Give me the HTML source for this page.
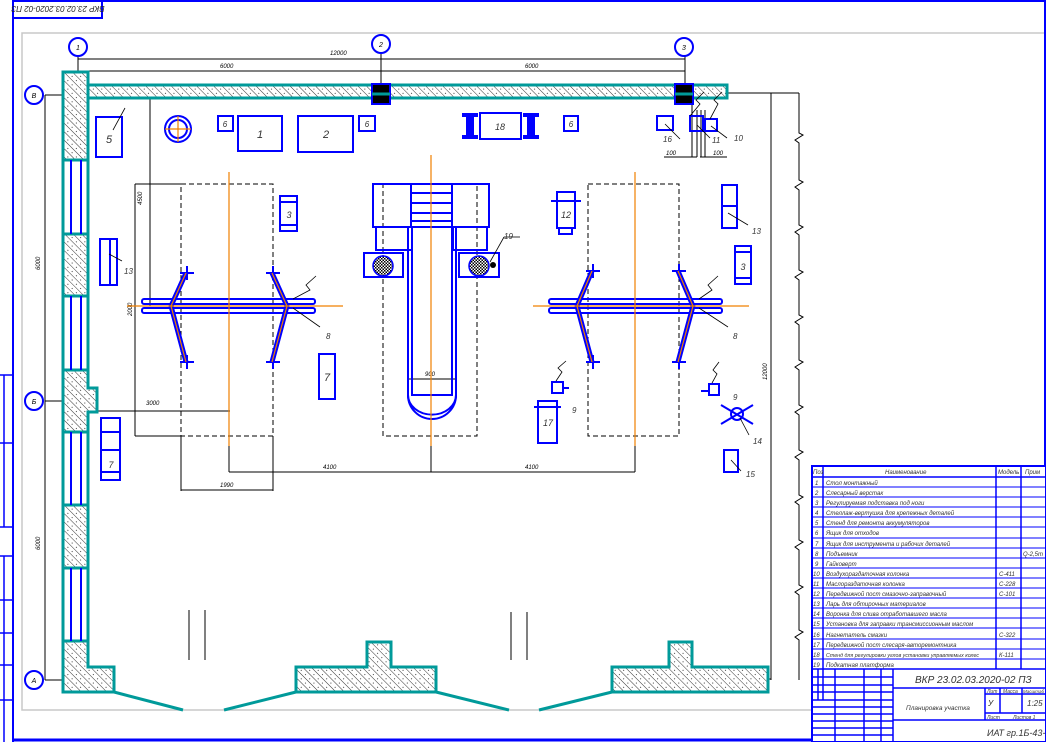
<!DOCTYPE html>
<html><head><meta charset="utf-8"><style>
html,body{margin:0;padding:0;background:#fff;}
svg{display:block;font-family:"Liberation Sans",sans-serif;font-style:italic;}
</style></head><body>
<svg width="1046" height="742" viewBox="0 0 1046 742" xmlns="http://www.w3.org/2000/svg">
<defs>
<pattern id="h" width="6" height="6" patternUnits="userSpaceOnUse" patternTransform="rotate(-45)">
<rect width="6" height="6" fill="#fff"/><line x1="0" y1="0" x2="0" y2="6" stroke="#000" stroke-width="0.8"/><circle cx="3" cy="3" r="0.5" fill="#000"/></pattern>
<pattern id="ch" width="3" height="3" patternUnits="userSpaceOnUse"><rect width="3" height="3" fill="#fff"/><rect width="1.5" height="1.5" fill="#000"/><rect x="1.5" y="1.5" width="1.5" height="1.5" fill="#000"/></pattern>
</defs>
<!-- frames -->
<rect x="22" y="33" width="1030" height="677" fill="none" stroke="#c8c8c8" stroke-width="1.5"/>
<line x1="13" y1="0" x2="13" y2="742" stroke="#00f" stroke-width="2"/>
<line x1="13" y1="1" x2="1046" y2="1" stroke="#00f" stroke-width="2"/>
<line x1="13" y1="740" x2="1046" y2="740" stroke="#00f" stroke-width="3"/>
<line x1="1045" y1="0" x2="1045" y2="742" stroke="#00f" stroke-width="2"/>
<rect x="13" y="1" width="89" height="17" fill="none" stroke="#00f" stroke-width="2"/>
<text x="58" y="9" font-size="8" fill="#222" text-anchor="middle" transform="rotate(180 58 9)" dy="3">ВКР 23.02.03.2020-02 ПЗ</text>
<g stroke="#00f" stroke-width="1.5" fill="none">
<line x1="4" y1="375" x2="4" y2="527"/><line x1="4" y1="556" x2="4" y2="742"/>
<line x1="0" y1="375" x2="13" y2="375"/><line x1="0" y1="443" x2="13" y2="443"/><line x1="0" y1="527" x2="13" y2="527"/><line x1="0" y1="556" x2="13" y2="556"/><line x1="0" y1="600" x2="13" y2="600"/><line x1="0" y1="633" x2="13" y2="633"/><line x1="0" y1="665" x2="13" y2="665"/><line x1="0" y1="700" x2="13" y2="700"/>
</g>
<!-- dimension lines -->
<g stroke="#000" stroke-width="1" fill="none">
<line x1="78" y1="59" x2="685" y2="59"/><line x1="78" y1="71" x2="685" y2="71"/>
<line x1="78" y1="56" x2="78" y2="94"/><line x1="381" y1="53" x2="381" y2="86"/><line x1="685" y1="56" x2="685" y2="86"/>
<line x1="45" y1="95" x2="45" y2="680"/>
<line x1="45" y1="95" x2="78" y2="95"/><line x1="78" y1="86" x2="78" y2="95"/>
<line x1="45" y1="401" x2="78" y2="401"/><line x1="78" y1="401" x2="78" y2="411"/>
<line x1="45" y1="680" x2="78" y2="680"/>
<line x1="727" y1="93" x2="799" y2="93"/><line x1="771" y1="93" x2="771" y2="680"/><line x1="660" y1="679" x2="771" y2="679"/>
<polyline points="799,93 799,133 803,135 795,140 799,143 799,180 803,182 795,187 799,190 799,225 803,227 795,232 799,235 799,270 803,272 795,277 799,280 799,315 803,317 795,322 799,325 799,360 803,362 795,367 799,370 799,405 803,407 795,412 799,415 799,450 803,452 795,457 799,460 799,495 803,497 795,502 799,505 799,540 803,542 795,547 799,550 799,585 803,587 795,592 799,595 799,630 803,632 795,637 799,640 799,680 "/>
<line x1="150" y1="97" x2="150" y2="306"/><line x1="150" y1="97" x2="170" y2="97"/>
<line x1="135" y1="184" x2="135" y2="436"/><line x1="135" y1="184" x2="182" y2="184"/><line x1="135" y1="436" x2="182" y2="436"/>
<line x1="77" y1="411" x2="230" y2="411"/><line x1="229" y1="446" x2="229" y2="472"/><line x1="635" y1="446" x2="635" y2="472"/><line x1="431" y1="446" x2="431" y2="472"/>
<line x1="229" y1="472" x2="635" y2="472"/>
<line x1="181" y1="436" x2="181" y2="491"/><line x1="273" y1="436" x2="273" y2="491"/><line x1="181" y1="490" x2="273" y2="490"/>
<line x1="408" y1="379" x2="456" y2="379"/>
<line x1="664" y1="157" x2="697" y2="157"/><line x1="692" y1="100" x2="692" y2="157"/><line x1="697" y1="110" x2="697" y2="157"/>
<line x1="700" y1="157" x2="727" y2="157"/><line x1="701" y1="110" x2="701" y2="157"/><line x1="705" y1="110" x2="705" y2="157"/>
<line x1="189" y1="610" x2="189" y2="660"/><line x1="205" y1="610" x2="205" y2="660"/>
<line x1="511" y1="612" x2="511" y2="660"/><line x1="527" y1="612" x2="527" y2="660"/>
</g>
<g font-size="6" fill="#000">
<text x="330" y="55">12000</text><text x="220" y="68">6000</text><text x="525" y="68">6000</text>
<text x="40" y="270" transform="rotate(-90 40 270)">6000</text><text x="40" y="550" transform="rotate(-90 40 550)">6000</text>
<text x="767" y="380" transform="rotate(-90 767 380)">12000</text>
<text x="146" y="405">3000</text><text x="323" y="469">4100</text><text x="525" y="469">4100</text><text x="220" y="487">1990</text><text x="425" y="376">900</text>
<text x="142" y="205" transform="rotate(-90 142 205)">4500</text><text x="132" y="316" transform="rotate(-90 132 316)">2000</text>
<text x="666" y="155">100</text><text x="713" y="155">100</text>
</g>
<!-- axis bubbles -->
<g stroke="#00f" stroke-width="2" fill="#fff">
<circle cx="78" cy="47" r="9"/><circle cx="381" cy="44" r="9"/><circle cx="684" cy="47" r="9"/>
<circle cx="34" cy="95" r="9"/><circle cx="34" cy="401" r="9"/><circle cx="34" cy="680" r="9"/>
</g>
<g font-size="7" fill="#000" text-anchor="middle"><text x="78" y="50">1</text><text x="381" y="47">2</text><text x="684" y="50">3</text><text x="34" y="98">В</text><text x="34" y="404">Б</text><text x="34" y="683">А</text></g>
<!-- walls -->
<g stroke="#009a9a" stroke-width="3" fill="url(#h)">
<rect x="88" y="85" width="639" height="13"/>
<rect x="63" y="72" width="25" height="88"/>
<rect x="63" y="234" width="25" height="62"/>
<path d="M63 370 H88 V388 H97 V412 H88 V432 H63 Z"/>
<rect x="63" y="505" width="25" height="63"/>
<path d="M63 641 H88 V667 H114 V692 H63 Z"/>
<path d="M296 667 H367 V642 H391 V667 H436 V692 H296 Z"/>
<path d="M612 667 H669 V642 H692 V667 H768 V692 H612 Z"/>
</g>
<g stroke="#009a9a" stroke-width="3" fill="none">
<rect x="63" y="160" width="25" height="74"/><rect x="63" y="296" width="25" height="74"/><rect x="63" y="432" width="25" height="73"/><rect x="63" y="568" width="25" height="73"/>
<line x1="114" y1="692" x2="183" y2="710"/><line x1="224" y1="710" x2="296" y2="692"/>
<line x1="436" y1="692" x2="509" y2="710"/><line x1="539" y1="710" x2="612" y2="692"/>
</g>
<g stroke="#00f" stroke-width="2"><line x1="71" y1="160" x2="71" y2="234"/><line x1="81" y1="160" x2="81" y2="234"/><line x1="71" y1="296" x2="71" y2="370"/><line x1="81" y1="296" x2="81" y2="370"/><line x1="71" y1="432" x2="71" y2="505"/><line x1="81" y1="432" x2="81" y2="505"/><line x1="71" y1="568" x2="71" y2="641"/><line x1="81" y1="568" x2="81" y2="641"/></g>
<g stroke="#00f" stroke-width="2" fill="#000"><rect x="372" y="84" width="18" height="20"/><rect x="675" y="84" width="18" height="20"/></g>
<line x1="372" y1="94" x2="390" y2="94" stroke="#009a9a" stroke-width="3"/><line x1="675" y1="94" x2="693" y2="94" stroke="#009a9a" stroke-width="3"/>
<!-- dashed zones -->
<g stroke="#000" stroke-width="1" stroke-dasharray="5,3" fill="none">
<rect x="181" y="184" width="92" height="252"/><rect x="588" y="184" width="91" height="252"/><rect x="383" y="184" width="94" height="252"/>
</g>
<!-- equipment -->
<g stroke="#00f" stroke-width="2" fill="none">
<rect x="96" y="117" width="26" height="40"/>
<circle cx="178" cy="129" r="13"/><circle cx="178" cy="129" r="9"/>
<rect x="218" y="116" width="15" height="15"/><rect x="238" y="116" width="44" height="35"/><rect x="298" y="116" width="55" height="36"/><rect x="359" y="116" width="16" height="15"/>
<rect x="480" y="113" width="41" height="26"/><rect x="564" y="116" width="14" height="15"/>
<rect x="657" y="116" width="16" height="14"/><rect x="690" y="116" width="13" height="15"/><rect x="705" y="119" width="12" height="12"/>
<rect x="722" y="185" width="15" height="43"/><line x1="722" y1="206" x2="737" y2="206"/>
<rect x="735" y="246" width="16" height="38"/><line x1="735" y1="252" x2="751" y2="252"/><line x1="735" y1="278" x2="751" y2="278"/>
<rect x="557" y="192" width="18" height="36"/><rect x="559" y="228" width="13" height="6"/><line x1="551" y1="201" x2="581" y2="201"/>
<rect x="538" y="401" width="19" height="42"/><line x1="534" y1="407" x2="561" y2="407"/>
<rect x="552" y="382" width="11" height="11"/><line x1="563" y1="388" x2="569" y2="388"/>
<rect x="709" y="384" width="10" height="11"/><line x1="701" y1="391" x2="709" y2="391"/>
<circle cx="737" cy="414" r="6"/><line x1="721" y1="405" x2="753" y2="424"/><line x1="721" y1="424" x2="753" y2="405"/>
<rect x="724" y="450" width="14" height="22"/>
<rect x="280" y="196" width="17" height="35"/><line x1="280" y1="202" x2="297" y2="202"/><line x1="280" y1="225" x2="297" y2="225"/>
<rect x="319" y="354" width="16" height="45"/>
<rect x="100" y="239" width="17" height="46"/><line x1="110" y1="239" x2="110" y2="285"/>
<rect x="101" y="418" width="19" height="62"/><line x1="101" y1="432" x2="120" y2="432"/><line x1="101" y1="450" x2="120" y2="450"/><line x1="101" y1="472" x2="120" y2="472"/>
<!-- lifts -->
<rect x="142" y="299" width="173" height="5" rx="2"/><rect x="142" y="308" width="173" height="5" rx="2"/>
<rect x="549" y="299" width="173" height="5" rx="2"/><rect x="549" y="308" width="173" height="5" rx="2"/>
<line x1="180" y1="273" x2="194" y2="273"/><line x1="180" y1="362" x2="194" y2="362"/><line x1="266" y1="273" x2="280" y2="273"/><line x1="266" y1="362" x2="280" y2="362"/>
<line x1="586" y1="271" x2="600" y2="271"/><line x1="586" y1="362" x2="600" y2="362"/><line x1="672" y1="271" x2="686" y2="271"/><line x1="672" y1="362" x2="686" y2="362"/>
<line x1="187" y1="266" x2="187" y2="280"/><line x1="187" y1="355" x2="187" y2="369"/><line x1="273" y1="266" x2="273" y2="280"/><line x1="273" y1="355" x2="273" y2="369"/>
<line x1="593" y1="264" x2="593" y2="278"/><line x1="593" y1="355" x2="593" y2="369"/><line x1="679" y1="264" x2="679" y2="278"/><line x1="679" y1="355" x2="679" y2="369"/>
<!-- pit -->
<rect x="373" y="184" width="116" height="43"/><rect x="411" y="184" width="41" height="43"/>
<line x1="411" y1="193" x2="452" y2="193"/><line x1="411" y1="203" x2="452" y2="203"/><line x1="411" y1="213" x2="452" y2="213"/><line x1="411" y1="221" x2="452" y2="221"/>
<rect x="376" y="227" width="36" height="23"/><rect x="453" y="227" width="34" height="23"/>
<rect x="364" y="253" width="39" height="24"/><rect x="459" y="253" width="40" height="24"/>
<path d="M408 227 V395 A22 22 0 0 0 456 395 V227"/><path d="M412 227 V395 H452 V227"/><path d="M408 395 A22 18 0 0 0 456 395"/>
</g>
<g stroke="#00f" stroke-width="5" fill="none" stroke-linejoin="round">
<polyline points="186,273 171,306 186,362"/><polyline points="272,273 287,306 272,362"/>
<polyline points="592,271 577,306 592,362"/><polyline points="678,271 693,306 678,362"/>
</g>
<!-- orange center lines -->
<g stroke="#f08000" stroke-width="1.2" fill="none">
<line x1="229" y1="172" x2="229" y2="446"/><line x1="127" y1="306" x2="343" y2="306"/>
<line x1="635" y1="172" x2="635" y2="446"/><line x1="533" y1="306" x2="749" y2="306"/>
<line x1="431" y1="155" x2="431" y2="446"/>
<line x1="165" y1="129" x2="191" y2="129"/><line x1="178" y1="116" x2="178" y2="142"/>
<polyline points="186,273 171,306 186,362"/><polyline points="272,273 287,306 272,362"/>
<polyline points="592,271 577,306 592,362"/><polyline points="678,271 693,306 678,362"/>
</g>
<g stroke="#00f" stroke-width="1.5" fill="url(#ch)"><circle cx="383" cy="266" r="10"/><circle cx="479" cy="266" r="10"/></g>
<circle cx="493" cy="265" r="3" fill="#000"/>
<g fill="#00f"><rect x="466" y="113" width="8" height="26"/><rect x="462" y="113" width="16" height="4"/><rect x="462" y="135" width="16" height="4"/><rect x="527" y="113" width="8" height="26"/><rect x="523" y="113" width="16" height="4"/><rect x="523" y="135" width="16" height="4"/></g>
<!-- leaders -->
<g stroke="#000" stroke-width="0.8" fill="none">
<line x1="113" y1="130" x2="125" y2="108"/><line x1="293" y1="308" x2="320" y2="327"/><line x1="699" y1="308" x2="728" y2="327"/>
<line x1="109" y1="254" x2="122" y2="261"/><line x1="728" y1="213" x2="748" y2="225"/><line x1="490" y1="262" x2="504" y2="237"/><line x1="504" y1="237" x2="520" y2="237"/>
<line x1="665" y1="124" x2="680" y2="139"/><line x1="697" y1="125" x2="710" y2="138"/><line x1="711" y1="126" x2="727" y2="138"/>
<line x1="740" y1="418" x2="749" y2="435"/><line x1="731" y1="460" x2="741" y2="471"/>
<polyline points="293,299 310,290 306,285 316,276"/><polyline points="699,299 712,290 708,285 718,276"/>
<polyline points="690,116 700,104 696,100 704,92"/><polyline points="710,119 718,104 714,100 722,92"/>
<polyline points="556,381 562,372 558,368 566,361"/><polyline points="712,383 717,374 713,370 719,362"/>
</g>
<g font-size="11" fill="#333" text-anchor="middle">
<text x="109" y="143">5</text><text x="260" y="138">1</text><text x="326" y="138">2</text><text x="225" y="127" font-size="8">6</text><text x="367" y="127" font-size="8">6</text><text x="571" y="127" font-size="8">6</text>
<text x="500" y="130" font-size="9">18</text><text x="289" y="218" font-size="9">3</text><text x="327" y="381">7</text><text x="111" y="468" font-size="9">7</text>
<text x="566" y="218" font-size="9">12</text><text x="548" y="426" font-size="9">17</text><text x="743" y="270" font-size="9">3</text>
</g>
<g font-size="8" fill="#333">
<text x="124" y="274">13</text><text x="752" y="234">13</text><text x="326" y="339">8</text><text x="733" y="339">8</text><text x="504" y="239">19</text>
<text x="663" y="142">16</text><text x="712" y="143">11</text><text x="734" y="141">10</text>
<text x="572" y="413">9</text><text x="733" y="400">9</text><text x="753" y="444">14</text><text x="746" y="477">15</text>
</g>
<!-- spec table -->
<rect x="812" y="466" width="234" height="276" fill="#fff" stroke="#00f" stroke-width="2"/>
<g stroke="#00f" stroke-width="1.5" fill="none">
<line x1="823" y1="466" x2="823" y2="669"/><line x1="996" y1="466" x2="996" y2="669"/><line x1="1021" y1="466" x2="1021" y2="669"/>
<line x1="812" y1="477" x2="1046" y2="477"/>
<line x1="812" y1="669" x2="1046" y2="669"/>
<line x1="893" y1="669" x2="893" y2="742"/><line x1="893" y1="688" x2="1046" y2="688"/><line x1="893" y1="720" x2="1046" y2="720"/>
<line x1="985" y1="688" x2="985" y2="720"/><line x1="985" y1="694" x2="1046" y2="694"/><line x1="985" y1="713" x2="1046" y2="713"/><line x1="1000" y1="688" x2="1000" y2="713"/><line x1="1022" y1="688" x2="1022" y2="713"/>
<line x1="818" y1="669" x2="818" y2="700"/><line x1="823" y1="669" x2="823" y2="700"/><line x1="835" y1="669" x2="835" y2="742"/><line x1="864" y1="669" x2="864" y2="742"/><line x1="881" y1="669" x2="881" y2="742"/>
<line x1="812" y1="677" x2="893" y2="677"/><line x1="812" y1="685" x2="893" y2="685"/><line x1="812" y1="692" x2="893" y2="692"/><line x1="812" y1="700" x2="893" y2="700"/><line x1="812" y1="707" x2="893" y2="707"/><line x1="812" y1="714" x2="893" y2="714"/><line x1="812" y1="721" x2="893" y2="721"/><line x1="812" y1="728" x2="893" y2="728"/><line x1="812" y1="735" x2="893" y2="735"/>
</g>
<g stroke="#00f" stroke-width="1">
<line x1="812" y1="487" x2="1046" y2="487"/><line x1="812" y1="497" x2="1046" y2="497"/><line x1="812" y1="507" x2="1046" y2="507"/><line x1="812" y1="517" x2="1046" y2="517"/><line x1="812" y1="527" x2="1046" y2="527"/><line x1="812" y1="538" x2="1046" y2="538"/><line x1="812" y1="548" x2="1046" y2="548"/><line x1="812" y1="558" x2="1046" y2="558"/><line x1="812" y1="568" x2="1046" y2="568"/><line x1="812" y1="578" x2="1046" y2="578"/><line x1="812" y1="588" x2="1046" y2="588"/><line x1="812" y1="598" x2="1046" y2="598"/><line x1="812" y1="608" x2="1046" y2="608"/><line x1="812" y1="618" x2="1046" y2="618"/><line x1="812" y1="628" x2="1046" y2="628"/><line x1="812" y1="639" x2="1046" y2="639"/><line x1="812" y1="649" x2="1046" y2="649"/><line x1="812" y1="659" x2="1046" y2="659"/>
</g>
<g font-size="6" fill="#333">
<text x="813" y="474">Поз</text><text x="885" y="474">Наименование</text><text x="998" y="474">Модель</text><text x="1025" y="474">Прим</text>
<text x="815" y="485">1</text><text x="826" y="485">Стол монтажный</text>
<text x="815" y="495">2</text><text x="826" y="495">Слесарный верстак</text>
<text x="815" y="505">3</text><text x="826" y="505">Регулируемая подставка под ноги</text>
<text x="815" y="515">4</text><text x="826" y="515">Стеллаж-вертушка для крепежных деталей</text>
<text x="815" y="525">5</text><text x="826" y="525">Стенд для ремонта аккумуляторов</text>
<text x="815" y="535">6</text><text x="826" y="535">Ящик для отходов</text>
<text x="815" y="546">7</text><text x="826" y="546">Ящик для инструмента и рабочих деталей</text>
<text x="815" y="556">8</text><text x="826" y="556">Подъемник</text><text x="1023" y="556">Q-2,5т</text>
<text x="815" y="566">9</text><text x="826" y="566">Гайковерт</text>
<text x="813" y="576">10</text><text x="826" y="576">Воздухораздаточная колонка</text><text x="999" y="576">С-411</text>
<text x="813" y="586">11</text><text x="826" y="586">Маслораздаточная колонка</text><text x="999" y="586">С-228</text>
<text x="813" y="596">12</text><text x="826" y="596">Передвижной пост смазочно-заправочный</text><text x="999" y="596">С-101</text>
<text x="813" y="606">13</text><text x="826" y="606">Ларь для обтирочных материалов</text>
<text x="813" y="616">14</text><text x="826" y="616">Воронка для слива отработавшего масла</text>
<text x="813" y="626">15</text><text x="826" y="626">Установка для заправки трансмиссионным маслом</text>
<text x="813" y="637">16</text><text x="826" y="637">Нагнетатель смазки</text><text x="999" y="637">С-322</text>
<text x="813" y="647">17</text><text x="826" y="647">Передвижной пост слесаря-авторемонтника</text>
<text x="813" y="657">18</text><text x="826" y="657" font-size="5.3">Стенд для регулировки углов установки управляемых колес</text><text x="999" y="657">К-111</text>
<text x="813" y="667">19</text><text x="826" y="667">Подкатная платформа</text>
</g>
<g fill="#333">
<text x="915" y="683" font-size="10">ВКР 23.02.03.2020-02 ПЗ</text>
<text x="906" y="710" font-size="6.5">Планировка участка</text>
<text x="987" y="693" font-size="5">Лит</text><text x="1003" y="693" font-size="5">Масса</text><text x="1023" y="693" font-size="4.5">Масштаб</text>
<text x="988" y="706" font-size="8">У</text><text x="1027" y="706" font-size="8">1:25</text>
<text x="987" y="719" font-size="5">Лист</text><text x="1013" y="719" font-size="5">Листов 1</text>
<text x="987" y="736" font-size="9">ИАТ гр.1Б-43-16</text>
</g>
</svg>
</body></html>
